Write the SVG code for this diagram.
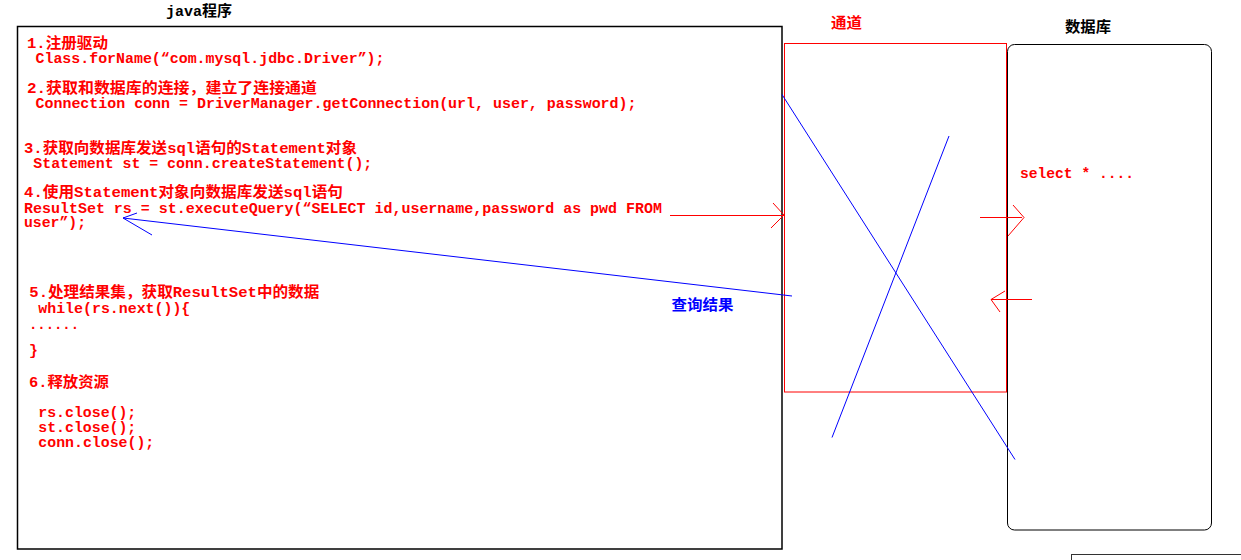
<svg xmlns="http://www.w3.org/2000/svg" width="1241" height="560" viewBox="0 0 1241 560">
<style>
  .t { font-family: "Liberation Mono", "Noto Sans CJK SC", monospace; font-weight: bold; font-size: 15px; }
  .red { fill: #ff0000; }
  .blue { fill: #0000ff; }
  .blk { fill: #000000; }
  .ln-red { stroke: #ff0000; stroke-width: 1; fill: none; }
  .ln-blue { stroke: #0000ff; stroke-width: 1; fill: none; }
</style>
<rect x="0" y="0" width="1241" height="560" fill="#ffffff"/>

<g id="java-program">
  <rect x="17.5" y="26.5" width="764.5" height="522.5" fill="none" stroke="#000" stroke-width="1.5"/>
  <text class="t blk" x="166" y="16" textLength="66" lengthAdjust="spacingAndGlyphs">java程序</text>
  <text class="t red" x="27" y="48" textLength="81" lengthAdjust="spacingAndGlyphs">1.注册驱动</text>
  <text class="t red" x="35.5" y="63" textLength="349" lengthAdjust="spacingAndGlyphs">Class.forName(“com.mysql.jdbc.Driver”);</text>
  <text class="t red" x="27" y="92.5" textLength="290" lengthAdjust="spacingAndGlyphs">2.获取和数据库的连接，建立了连接通道</text>
  <text class="t red" x="35.5" y="107.5" textLength="601" lengthAdjust="spacingAndGlyphs">Connection conn = DriverManager.getConnection(url, user, password);</text>
  <text class="t red" x="24" y="152.5" textLength="333" lengthAdjust="spacingAndGlyphs">3.获取向数据库发送sql语句的Statement对象</text>
  <text class="t red" x="33.3" y="167.5" textLength="339" lengthAdjust="spacingAndGlyphs">Statement st = conn.createStatement();</text>
  <text class="t red" x="24" y="196.5" textLength="319" lengthAdjust="spacingAndGlyphs">4.使用Statement对象向数据库发送sql语句</text>
  <text class="t red" x="24" y="212.5" textLength="638" lengthAdjust="spacingAndGlyphs">ResultSet rs = st.executeQuery(“SELECT id,username,password as pwd FROM</text>
  <text class="t red" x="24" y="227.3" textLength="62" lengthAdjust="spacingAndGlyphs">user”);</text>
  <text class="t red" x="29.3" y="296.5" textLength="290" lengthAdjust="spacingAndGlyphs">5.处理结果集，获取ResultSet中的数据</text>
  <text class="t red" x="38.3" y="312.5" textLength="152" lengthAdjust="spacingAndGlyphs">while(rs.next()){</text>
  <text class="t red" x="29" y="328.5" font-size="10" textLength="50" lengthAdjust="spacingAndGlyphs">......</text>
  <text class="t red" x="29" y="355">}</text>
  <text class="t red" x="29" y="387.3" textLength="80" lengthAdjust="spacingAndGlyphs">6.释放资源</text>
  <text class="t red" x="38.3" y="417.3" textLength="98" lengthAdjust="spacingAndGlyphs">rs.close();</text>
  <text class="t red" x="38.3" y="432.3" textLength="98" lengthAdjust="spacingAndGlyphs">st.close();</text>
  <text class="t red" x="38.3" y="447.3" textLength="116" lengthAdjust="spacingAndGlyphs">conn.close();</text>
</g>

<g id="channel">
  <rect x="784.5" y="43.5" width="222" height="348.5" fill="none" stroke="#ff0000" stroke-width="1"/>
  <text class="t red" x="831" y="28" textLength="31" lengthAdjust="spacingAndGlyphs">通道</text>
</g>

<g id="database">
  <rect x="1007.5" y="44.5" width="204" height="485.5" rx="7" ry="7" fill="none" stroke="#000" stroke-width="1"/>
  <text class="t blk" x="1065" y="32" textLength="46" lengthAdjust="spacingAndGlyphs">数据库</text>
  <text class="t red" x="1020" y="177.5" textLength="114" lengthAdjust="spacingAndGlyphs">select * ....</text>
</g>

<g id="connectors">
  <line class="ln-red" x1="670" y1="215.5" x2="784" y2="215.5"/>
  <polyline class="ln-red" points="773,203 784,215 771,228"/>
  <line class="ln-red" x1="980" y1="217.5" x2="1022" y2="217.5"/>
  <polyline class="ln-red" points="1013,205 1024,217.5 1008,236"/>
  <line class="ln-red" x1="991" y1="299.5" x2="1032" y2="299.5"/>
  <polyline class="ln-red" points="1005,291 991,299.5 1000,312"/>
  <line class="ln-blue" x1="792" y1="296" x2="123" y2="218"/>
  <polyline class="ln-blue" points="137,213 123,218 152,235"/>
  <text class="t blue" x="671.5" y="310" textLength="62" lengthAdjust="spacingAndGlyphs">查询结果</text>
  <line class="ln-blue" x1="782" y1="94.5" x2="1015" y2="459.5"/>
  <line class="ln-blue" x1="949" y1="136" x2="832" y2="437.5"/>
</g>

<rect x="1071.5" y="554.5" width="180" height="20" fill="none" stroke="#333" stroke-width="1"/>
</svg>
